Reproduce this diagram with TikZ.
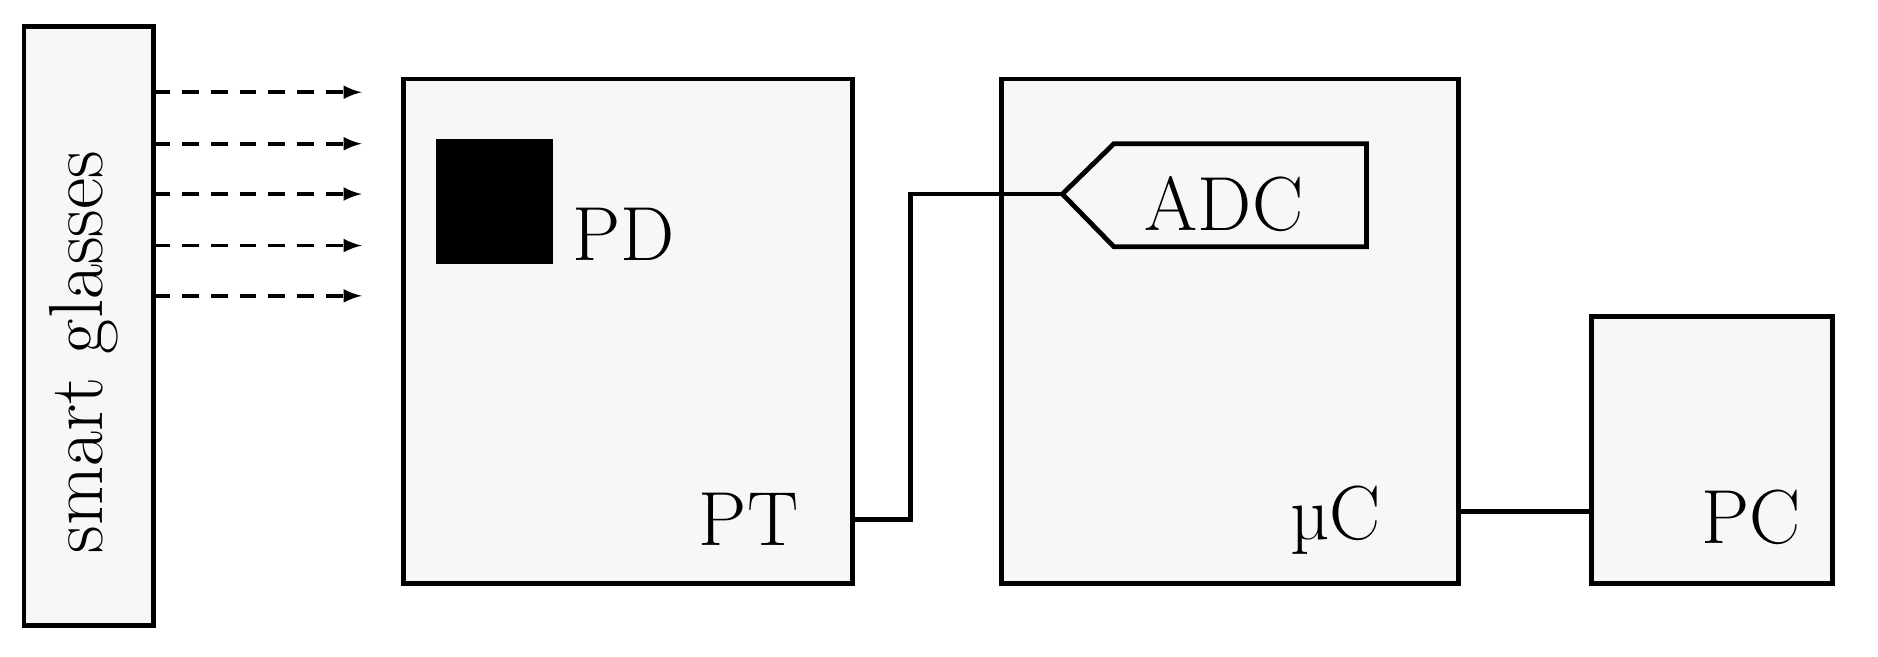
\documentclass[tikz,border=0pt]{standalone}
\begin{document}
\begin{tikzpicture}[x=0.5pt,y=-0.5pt,
  box/.style={draw,line width=2pt,fill=black!3},
  lbl/.style={font=\fontsize{32}{38}\selectfont},
  wire/.style={line width=2pt},
  ray/.style={line width=1.6pt,dashed,dash pattern=on 7pt off 5pt,-latex}]
\useasboundingbox (0,0) rectangle (1568,548);
\draw[box] (20,22) rectangle (128,522);
\node[lbl,rotate=90] (sg) at (70,294) {smart glasses};
\foreach \i/\y in {1/77,2/120,3/162,4/205,5/247}{
  \coordinate (s\i) at (128,\y); \coordinate (t\i) at (302,\y);
  \draw[ray] (s\i) -- (t\i);}
\draw[box] (337,66) rectangle (712,487);
\fill (364,116) rectangle (462,220);
\node[lbl] (pd) at (521,196) {PD};
\node[lbl] (pt) at (625,434) {PT};
\draw[box] (836,66) rectangle (1218,487);
\draw[box] (887,162) -- (930,120) -- (1141,120) -- (1141,206) -- (930,206) -- cycle;
\coordinate (adc) at (887,162);
\node[lbl] (adct) at (1022,170) {ADC};
\node[lbl] (uc) at (1115,434) {\textmu C};
\draw[box] (1329,264) rectangle (1530,487);
\node[lbl] (pc) at (1462,432) {PC};
\coordinate (ptout) at (712,434);
\draw[wire] (ptout) -- (760,434) -- (760,162) -- (adc);
\coordinate (ucout) at (1218,427); \coordinate (pcin) at (1329,427);
\draw[wire] (ucout) -- (pcin);
\end{tikzpicture}
\end{document}
